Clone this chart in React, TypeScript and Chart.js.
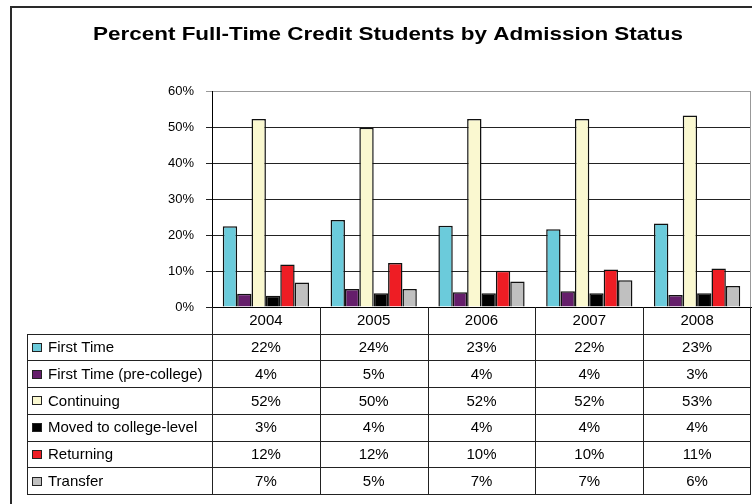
import React, { useEffect, useRef } from 'react';
import { Chart, registerables } from 'chart.js';

Chart.register(...registerables);

const TITLE = 'Percent Full-Time Credit Students by Admission Status';
const years = ['2004', '2005', '2006', '2007', '2008'];
const seriesNames = [
  'First Time',
  'First Time (pre-college)',
  'Continuing',
  'Moved to college-level',
  'Returning',
  'Transfer',
];
const firstTime = [22.4, 24.2, 22.6, 21.6, 23.2];
const firstTimePreCollege = [3.7, 5.0, 4.1, 4.4, 3.3];
const continuing = [52.2, 49.8, 52.2, 52.2, 53.2];
const movedToCollegeLevel = [3.1, 3.8, 3.8, 3.8, 3.8];
const returning = [11.8, 12.2, 10.1, 10.4, 10.7];
const transfer = [6.8, 5.0, 7.1, 7.4, 5.8];
const seriesValues = [firstTime, firstTimePreCollege, continuing, movedToCollegeLevel, returning, transfer];
const seriesColors = ['#6BCBDB', '#651E6B', '#FAF8D0', '#000000', '#EE1D24', '#C0C0C0'];
const yMin = 0;
const yMax = 60;
const yStep = 10;

const FONT = '"Liberation Sans", Arial, Helvetica, sans-serif';

const framePlugin = {
  id: 'framePlugin',
  beforeDraw(chart: any) {
    const ctx = chart.ctx;
    ctx.save();
    ctx.fillStyle = '#ffffff';
    ctx.fillRect(0, 0, chart.width, chart.height);
    ctx.restore();
  },
  afterDraw(chart: any) {
    const ctx = chart.ctx;
    const a = chart.chartArea;
    ctx.save();
    // outer frame
    ctx.fillStyle = '#2a2a2a';
    ctx.fillRect(10, 6, chart.width - 10, 2);
    ctx.fillRect(10, 6, 2, chart.height - 6);

    // title (horizontally widened like the original)
    ctx.fillStyle = '#000';
    ctx.font = `bold 19px ${FONT}`;
    ctx.textAlign = 'center';
    ctx.textBaseline = 'middle';
    const w0 = ctx.measureText(TITLE).width;
    const sx = w0 > 0 ? Math.max(1, 590 / w0) : 1;
    ctx.save();
    ctx.translate(388, 35);
    ctx.scale(sx, 1);
    ctx.fillText(TITLE, 0, 0);
    ctx.restore();

    // plot right border
    ctx.strokeStyle = '#999';
    ctx.lineWidth = 1;
    ctx.beginPath();
    ctx.moveTo(Math.round(a.right) - 0.5, a.top);
    ctx.lineTo(Math.round(a.right) - 0.5, a.bottom);
    ctx.stroke();

    // data table
    const n = years.length;
    const top = a.bottom;
    const bottom = 494;
    const rows = seriesNames.length + 1;
    const rowH = (bottom - top) / rows;
    const cw = (a.right - a.left) / n;
    const tableLeft = 27;

    ctx.strokeStyle = '#222';
    ctx.lineWidth = 1;
    ctx.beginPath();
    for (let k = 1; k <= rows; k++) {
      const y = Math.round(top + rowH * k) + 0.5;
      ctx.moveTo(tableLeft, y);
      ctx.lineTo(a.right, y);
    }
    ctx.moveTo(tableLeft + 0.5, Math.round(top + rowH));
    ctx.lineTo(tableLeft + 0.5, Math.round(bottom) + 1);
    for (let i = 0; i <= n; i++) {
      const x = i === n ? Math.round(a.right) - 0.5 : Math.round(a.left + cw * i) + 0.5;
      ctx.moveTo(x, top);
      ctx.lineTo(x, Math.round(bottom) + 1);
    }
    ctx.stroke();

    ctx.font = `15px ${FONT}`;
    ctx.fillStyle = '#000';
    ctx.textAlign = 'center';
    ctx.textBaseline = 'middle';
    for (let i = 0; i < n; i++) {
      const cx = a.left + cw * (i + 0.5);
      ctx.fillText(years[i], cx, top + rowH / 2 + 1);
      for (let s = 0; s < seriesNames.length; s++) {
        const cy = top + rowH * (s + 1) + rowH / 2 + 1;
        ctx.fillText(`${Math.round(seriesValues[s][i])}%`, cx, cy);
      }
    }
    ctx.textAlign = 'left';
    for (let s = 0; s < seriesNames.length; s++) {
      const cy = top + rowH * (s + 1) + rowH / 2;
      ctx.fillStyle = seriesColors[s];
      ctx.fillRect(32, Math.round(cy) - 4, 10, 9);
      ctx.strokeStyle = '#222';
      ctx.strokeRect(32.5, Math.round(cy) - 3.5, 9, 8);
      ctx.fillStyle = '#000';
      ctx.fillText(seriesNames[s], 48, cy + 1);
    }
    ctx.restore();
  },
};

export default function App() {
  const canvasRef = useRef<HTMLCanvasElement | null>(null);

  useEffect(() => {
    document.body.style.margin = '0';
    const canvas = canvasRef.current;
    if (!canvas) return;
    const chart = new Chart(canvas, {
      type: 'bar',
      data: {
        labels: years,
        datasets: seriesNames.map((name, i) => ({
          label: name,
          data: seriesValues[i],
          backgroundColor: seriesColors[i],
          borderColor: '#111',
          borderWidth: 1.5,
          categoryPercentage: 0.8,
          barPercentage: 1,
        })),
      },
      options: {
        animation: false,
        responsive: false,
        devicePixelRatio: 1,
        layout: { padding: { top: 91, right: 1, left: 0, bottom: 0 } },
        plugins: {
          legend: { display: false },
          title: { display: false },
          tooltip: { enabled: false },
        },
        scales: {
          x: {
            grid: { display: false },
            ticks: { display: false },
            border: { display: true, color: '#000' },
            afterFit: (s: any) => { s.height = 197; },
          },
          y: {
            min: yMin,
            max: yMax,
            ticks: {
              stepSize: yStep,
              callback: (v: any) => `${v}%`,
              color: '#000',
              font: { family: FONT, size: 13 },
              padding: 12,
            },
            grid: {
              color: (c: any) => (c.tick && c.tick.value === yMax ? '#999' : '#222'),
              tickLength: 6,
            },
            border: { color: '#000' },
            afterFit: (s: any) => { s.width = 212; },
          },
        },
      } as any,
      plugins: [framePlugin],
    });
    return () => chart.destroy();
  }, []);

  return (
    <div style={{ position: 'absolute', left: 0, top: 0, width: 752, height: 504 }}>
      <canvas ref={canvasRef} width={752} height={504} />
    </div>
  );
}
